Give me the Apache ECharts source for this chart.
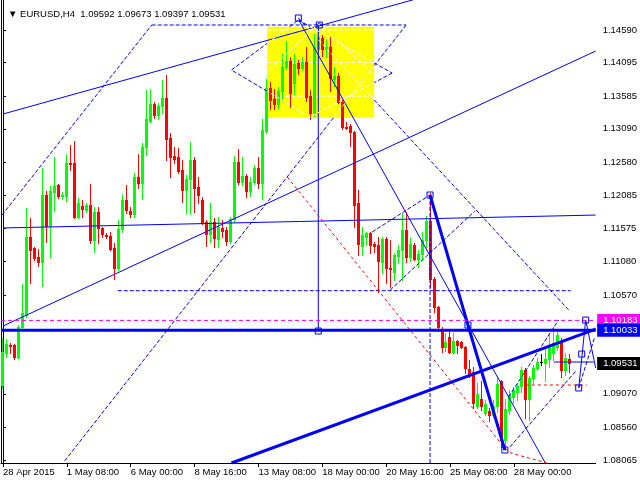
<!DOCTYPE html>
<html><head><meta charset="utf-8">
<script src="https://cdn.jsdelivr.net/npm/echarts@6/dist/echarts.min.js"></script>
<style>html,body{margin:0;padding:0;background:#fff}#c{width:640px;height:480px}</style>
</head><body><div id="c"></div>
<script>
// ---- data ----
const tickIndex = [0,16,32,48,64,80,96,112,128];
const tickLabels = ['28 Apr 2015','1 May 08:00','6 May 00:00','8 May 16:00','13 May 08:00','18 May 00:00','20 May 16:00','25 May 08:00','28 May 00:00'];
const priceTicks = [1.14590,1.14095,1.13585,1.13090,1.12580,1.12085,1.11575,1.11080,1.10570,1.09070,1.08560,1.08065];

const opens = [1.09203,1.09688,1.09810,1.09810,1.09628,1.10083,1.10265,1.11449,1.11282,1.11145,
1.11070,1.12086,1.11616,1.12132,1.12238,1.12071,1.12071,1.12571,1.12571,1.11752,
1.11919,1.11858,1.11934,1.11403,1.11828,1.11586,1.11479,1.11464,1.11282,1.10979,
1.11570,1.12010,1.11843,1.11797,1.12359,1.12268,1.12815,1.13209,1.13467,1.13300,
1.13437,1.13558,1.12951,1.12678,1.12663,1.12465,1.12162,1.12328,1.12617,1.12208,
1.12010,1.11677,1.11494,1.11677,1.11418,1.11586,1.11555,1.11388,1.11721,1.12587,
1.12284,1.12374,1.12147,1.12284,1.12496,1.12268,1.13057,1.13710,1.13542,1.13467,
1.13664,1.14029,1.14120,1.13785,1.14089,1.14014,1.14105,1.13588,1.13330,1.14301,
1.14469,1.14301,1.14332,1.13846,1.13892,1.13498,1.13118,1.13133,1.13042,1.11964,
1.11312,1.11449,1.11509,1.11342,1.11327,1.11070,1.11418,1.10979,1.10918,1.11160,
1.11251,1.11555,1.11145,1.11327,1.11114,1.11190,1.11403,1.11692,1.10811,1.10387,
1.10052,1.09780,1.09931,1.09704,1.09871,1.09856,1.09780,1.09445,1.09400,1.08884,
1.08990,1.08777,1.08808,1.08747,1.08884,1.09264,1.08368,1.08823,1.09021,1.09097,
1.09188,1.09430,1.08990,1.09309,1.09461,1.09552,1.09536,1.09597,1.09688,1.09780,
1.09871,1.09430,1.09592];
const highs = [1.09916,1.09900,1.09840,1.09825,1.10113,1.10735,1.11889,1.11737,1.11297,1.11266,
1.12496,1.12147,1.12223,1.12663,1.12253,1.12132,1.12708,1.12845,1.12906,1.12041,
1.12010,1.11964,1.12253,1.11904,1.11904,1.11601,1.11509,1.11525,1.11357,1.11707,
1.12101,1.12238,1.11904,1.12419,1.12708,1.12875,1.13679,1.13694,1.13498,1.13482,
1.13831,1.13907,1.13026,1.12815,1.12800,1.12617,1.12389,1.12891,1.12663,1.12359,
1.12056,1.11707,1.11964,1.11737,1.11752,1.11707,1.11601,1.11752,1.12678,1.12784,
1.12663,1.12404,1.12359,1.12541,1.12663,1.13239,1.13846,1.13801,1.13694,1.13725,
1.14225,1.14423,1.14180,1.14225,1.14135,1.14180,1.14332,1.13679,1.14529,1.14636,
1.14514,1.14453,1.14484,1.14029,1.13937,1.13542,1.13194,1.13163,1.13057,1.12162,
1.11601,1.11525,1.11525,1.11373,1.11449,1.11449,1.11449,1.11403,1.11205,1.11327,
1.11812,1.11828,1.11434,1.11357,1.11251,1.11525,1.11767,1.12116,1.10842,1.10402,
1.10083,1.09991,1.10007,1.09991,1.09886,1.09871,1.09795,1.09582,1.09476,1.09233,
1.09264,1.08975,1.08854,1.08975,1.09324,1.09279,1.08990,1.09127,1.09173,1.09233,
1.09476,1.09461,1.09339,1.09506,1.09613,1.09673,1.09765,1.09991,1.10083,1.10037,
1.09916,1.09688,1.09673];
const lows = [1.09158,1.09628,1.09688,1.09597,1.09613,1.10037,1.10235,1.10750,1.11100,1.11009,
1.10705,1.11373,1.11145,1.11843,1.12041,1.12025,1.11995,1.12465,1.11737,1.11737,
1.11752,1.11828,1.11357,1.11221,1.11357,1.11449,1.11434,1.11251,1.10811,1.10948,
1.11525,1.11812,1.11752,1.11752,1.12193,1.12025,1.12693,1.13194,1.13255,1.13239,
1.13330,1.12617,1.12359,1.12571,1.12419,1.11980,1.11812,1.11797,1.11828,1.11964,
1.11646,1.11312,1.11373,1.11297,1.11297,1.11449,1.11327,1.11357,1.11677,1.12253,
1.12238,1.12056,1.12071,1.12253,1.12193,1.12025,1.13026,1.13391,1.13391,1.13407,
1.13513,1.13998,1.13422,1.13618,1.13922,1.13983,1.13513,1.13239,1.13285,1.14271,
1.14195,1.14180,1.13664,1.13740,1.13482,1.13087,1.13087,1.12830,1.11601,1.11175,
1.11175,1.11327,1.11205,1.11221,1.10614,1.10902,1.10750,1.10690,1.10796,1.11054,
1.10796,1.11070,1.11085,1.11100,1.10994,1.11100,1.11297,1.10690,1.10311,1.10022,
1.09704,1.09719,1.09688,1.09688,1.09688,1.09765,1.09384,1.09324,1.08854,1.08854,
1.08823,1.08747,1.08657,1.08717,1.08793,1.08262,1.08216,1.08762,1.08929,1.08975,
1.09097,1.08702,1.08672,1.09233,1.09430,1.09506,1.09264,1.09476,1.09582,1.09734,
1.09324,1.09354,1.09397];
const closes = [1.09704,1.09825,1.09795,1.09628,1.10083,1.10295,1.11449,1.11251,1.11130,1.11070,
1.12086,1.11616,1.12147,1.12223,1.12071,1.12086,1.12571,1.12556,1.11752,1.11964,
1.11873,1.11934,1.11403,1.11828,1.11586,1.11494,1.11464,1.11266,1.10979,1.11570,
1.12010,1.11858,1.11797,1.12359,1.12268,1.12815,1.13239,1.13467,1.13300,1.13437,
1.13558,1.12935,1.12663,1.12632,1.12450,1.12162,1.12328,1.12617,1.12193,1.12086,
1.11661,1.11494,1.11677,1.11434,1.11601,1.11540,1.11388,1.11721,1.12587,1.12284,
1.12374,1.12147,1.12284,1.12496,1.12268,1.13072,1.13710,1.13528,1.13467,1.13664,
1.14029,1.14120,1.13633,1.14074,1.14014,1.14105,1.13573,1.13330,1.14332,1.14484,
1.14301,1.14332,1.13862,1.13892,1.13498,1.13118,1.13103,1.13042,1.11934,1.11342,
1.11479,1.11509,1.11327,1.11312,1.11085,1.11418,1.10979,1.10963,1.11175,1.11251,
1.11555,1.11145,1.11342,1.11114,1.11190,1.11403,1.11692,1.10811,1.10387,1.10083,
1.09780,1.09856,1.09704,1.09871,1.09810,1.09780,1.09461,1.09354,1.08929,1.09066,
1.08884,1.08914,1.08747,1.08884,1.09218,1.08368,1.08838,1.09051,1.09127,1.09188,
1.09430,1.08990,1.09309,1.09461,1.09552,1.09552,1.09597,1.09780,1.09840,1.09962,
1.09430,1.09613,1.09531];

// horizontal price levels
const levelMagenta = 1.10183;
const levelBlue = 1.10033;
const bidPrice = 1.09531;

// drawn objects: [barIndex, price] points
const solidLines = [
  [[0,1.13315],[148.5,1.15821]],
  [[0,1.10098],[148.5,1.14271]],
  [[0,1.11586],[148.5,1.11782]],
  [[79,1.14666],[79,1.10022]],
  [[74.25,1.14727],[141.05,1.07458]],
  [[146,1.10189],[144.25,1.09158]],
  [[146,1.10189],[148.5,1.09461]],
  [[138,1.09552],[148,1.09552]]
];
const thickLines = [
  [[107,1.12086],[116.5,1.10113],[125.75,1.08216]],
  [[57.25,1.08019],[148.5,1.10052]]
];
const dashedLines = [
  [[-0.25,1.11782],[37.25,1.14666]],
  [[37.25,1.14666],[101,1.14666]],
  [[101,1.14666],[15.25,1.08035]],
  [[28.75,1.10634],[142.25,1.10634]],
  [[107,1.12086],[107,1.08019]],
  [[57.25,1.13983],[74,1.14742],[97.5,1.13937],[77,1.13270],[57.25,1.13983]],
  [[79.25,1.14696],[93,1.13907]],
  [[79.25,1.14696],[66.25,1.13953]],
  [[74,1.14772],[141.75,1.10341]],
  [[92.5,1.11525],[107,1.12086]],
  [[97,1.10644],[118.25,1.11843]],
  [[144.25,1.09158],[148.25,1.09931]],
  [[127,1.08262],[143.75,1.09430]],
  [[126.7,1.09025],[139.2,1.10189]]
];
const redDashed = [
  [[71.25,1.12359],[125.5,1.08262],[127.25,1.08171],[131.75,1.08095],[136.25,1.08019]],
  [[131,1.09203],[146.25,1.09203]]
];
const anchors = [[74,1.14772],[79.25,1.14666],[79,1.10022],[107,1.12086],[116.5,1.10113],[125.75,1.08216],[146,1.10189],[145,1.09673],[144.25,1.09158]];
const yellowBox = [[66.2,1.14640],[93,1.13259]];

// ---- chart ----
const N = 149;
const categories = Array.from({length:N}, (_, i) => String(i));
const FONT = 'Liberation Sans';
const FS = 9.5;
const candleData = opens.map((o, i) => [i, o, closes[i], lows[i], highs[i]]);
const YMAX = 1.14590 + 30/6590, YMIN = 1.14590 - 433/6590;

function renderCandle(params, api) {
  const i = api.value(0), o = api.value(1), c = api.value(2), l = api.value(3), h = api.value(4);
  const po = api.coord([i, o]), pc = api.coord([i, c]), pl = api.coord([i, l]), ph = api.coord([i, h]);
  const cx = Math.floor(po[0]);
  const col = c > o ? '#00ff00' : (c < o ? '#ff0000' : '#000000');
  const top = Math.round(Math.min(po[1], pc[1])), bot = Math.round(Math.max(po[1], pc[1]));
  const yh = Math.round(ph[1]), yl = Math.round(pl[1]);
  return {type:'group', children:[
    {type:'rect', shape:{x:cx, y:yh, width:1, height:Math.max(1, yl - yh + 1)}, style:{fill:col}},
    {type:'rect', shape:{x:cx - 1, y:top, width:3, height:Math.max(1, bot - top + 1)}, style:{fill:col}}
  ]};
}

function lineSeries(pts, color, width, type, z) {
  return {type:'line', xAxisIndex:1, yAxisIndex:0, data:pts, symbol:'none', silent:true,
    lineStyle:{color, width, type}, z, clip:true, animation:false};
}
// split a segment where it crosses the yellow box (inside part drawn white, as in the picture)
function splitSegment(p0, p1, box) {
  const xmin = Math.min(box[0][0], box[1][0]), xmax = Math.max(box[0][0], box[1][0]);
  const ymin = Math.min(box[0][1], box[1][1]), ymax = Math.max(box[0][1], box[1][1]);
  const dx = p1[0] - p0[0], dy = p1[1] - p0[1];
  let t0 = 0, t1 = 1;
  const pq = [[-dx, p0[0] - xmin], [dx, xmax - p0[0]], [-dy, p0[1] - ymin], [dy, ymax - p0[1]]];
  for (const [p, q] of pq) {
    if (p === 0) { if (q < 0) return {out:[[p0, p1]], inn:[]}; continue; }
    const r = q / p;
    if (p < 0) { if (r > t1) return {out:[[p0, p1]], inn:[]}; if (r > t0) t0 = r; }
    else { if (r < t0) return {out:[[p0, p1]], inn:[]}; if (r < t1) t1 = r; }
  }
  const at = (t) => [p0[0] + dx * t, p0[1] + dy * t];
  const out = [];
  if (t0 > 0) out.push([p0, at(t0)]);
  if (t1 < 1) out.push([at(t1), p1]);
  return {out, inn:[[at(t0), at(t1)]]};
}

const series = [];
series.push({type:'line', xAxisIndex:1, yAxisIndex:0, data:[], silent:true, z:1,
  markArea:{silent:true, itemStyle:{color:'#ffff00'}, data:[[{coord:yellowBox[0]},{coord:yellowBox[1]}]]}});
priceTicks.slice(0,3).forEach(v => series.push(lineSeries([[yellowBox[0][0], v],[yellowBox[1][0], v]], '#ffffff', 1, [4,2], 2)));
series.push({type:'custom', xAxisIndex:0, yAxisIndex:0, data:candleData, renderItem:renderCandle, z:3,
  encode:{x:0, y:[1,2,3,4]}, silent:true, animation:false});
solidLines.forEach(p => series.push(lineSeries(p, '#0000ff', 1, 'solid', 4)));
dashedLines.forEach(pts => {
  for (let k = 0; k < pts.length - 1; k++) {
    const s = splitSegment(pts[k], pts[k+1], yellowBox);
    s.out.forEach(seg => series.push(lineSeries(seg, '#0000ff', 1, [4,2], 4)));
    s.inn.forEach(seg => series.push(lineSeries(seg, '#ffffff', 1, [4,2], 4)));
  }
});
redDashed.forEach(p => series.push(lineSeries(p, '#ff0000', 1, [3,3], 4)));
thickLines.forEach(p => series.push(lineSeries(p, '#0000ff', 3, 'solid', 5)));
series.push(lineSeries([[-0.5, levelMagenta],[N-0.5, levelMagenta]], '#ff00ff', 1, [4,3], 5));
series.push(lineSeries([[-0.5, levelBlue],[N-0.5, levelBlue]], '#0000ff', 3, 'solid', 5));
function priceTag(value, bg, z) {
  return {type:'scatter', xAxisIndex:1, yAxisIndex:0, data:[[N-0.5, value]], symbol:'rect', symbolSize:1,
    itemStyle:{color:'rgba(0,0,0,0)', opacity:1}, silent:true, clip:false, z,
    label:{show:true, position:'right', distance:1, color:'#ffffff', backgroundColor:bg, fontFamily:FONT, fontSize:FS,
      padding:[2,10,1,6], opacity:1, formatter:value.toFixed(5)}};
}
series.push(priceTag(levelMagenta, '#ff00ff', 8));
series.push(priceTag(levelBlue, '#0000ff', 9));
series.push(priceTag(bidPrice, '#000000', 10));
series.push({type:'scatter', xAxisIndex:1, yAxisIndex:0, data:anchors, symbol:'rect', symbolSize:6, silent:true, z:7,
  itemStyle:{color:'rgba(255,255,255,0)', borderColor:'#0000ff', borderWidth:1, opacity:1}});

const chart = echarts.init(document.getElementById('c'), null, {renderer:'canvas'});
chart.setOption({
  animation:false,
  backgroundColor:'#ffffff',
  title:{text:'\u25BC EURUSD,H4  1.09592 1.09673 1.09397 1.09531', left:3, top:4,
    textStyle:{fontFamily:FONT, fontSize:FS, fontWeight:'normal', color:'#000'}},
  grid:{left:1, right:43, top:0, bottom:17, containLabel:false},
  xAxis:[
    {type:'category', data:categories, boundaryGap:true,
     axisLine:{show:true, lineStyle:{color:'#000', width:1}},
     axisTick:{show:true, alignWithLabel:true, length:4, interval:(i) => tickIndex.includes(i), lineStyle:{color:'#000'}},
     axisLabel:{show:true, interval:(i) => tickIndex.includes(i), align:'left', margin:4,
       formatter:(v, i) => tickLabels[tickIndex.indexOf(i)] || '', fontFamily:FONT, fontSize:FS, color:'#000'},
     splitLine:{show:false}},
    {type:'value', min:-0.5, max:N-0.5, show:false}
  ],
  yAxis:[
    {type:'value', position:'right', min:YMIN, max:YMAX, scale:true,
     axisLine:{show:true, lineStyle:{color:'#000', width:1}},
     axisTick:{show:true, length:3, customValues:priceTicks, lineStyle:{color:'#000'}},
     axisLabel:{show:true, customValues:priceTicks, formatter:(v) => v.toFixed(5), margin:7,
       fontFamily:FONT, fontSize:FS, color:'#000'},
     splitLine:{show:false}},
    {type:'value', position:'left', min:YMIN, max:YMAX,
     axisLine:{show:true, lineStyle:{color:'#000', width:1}}, axisTick:{show:false}, axisLabel:{show:false}, splitLine:{show:false}}
  ],
  series
});
</script></body></html>
